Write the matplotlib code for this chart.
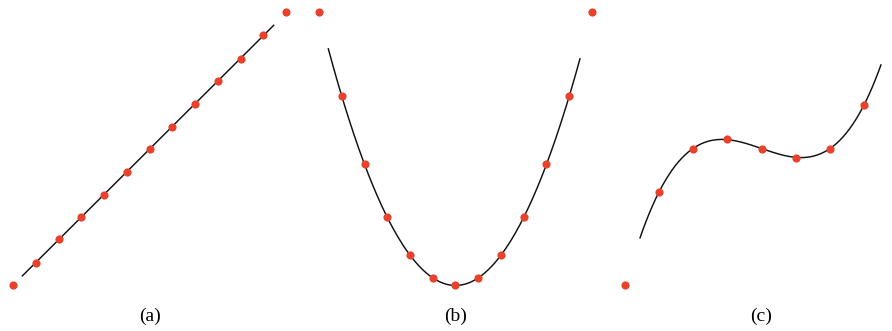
import matplotlib
matplotlib.use('Agg')
import matplotlib.pyplot as plt
import numpy as np

# sample points, one set per panel
a_x = [1, 2, 3, 4, 5, 6, 7, 8, 9, 10, 11]
a_y = [0.97, 2.02, 2.99, 3.96, 4.97, 5.98, 6.95, 7.96, 8.97, 9.93, 10.99]

b_x = [1, 2, 3, 4, 5, 6, 7, 8, 9, 10, 11]
b_y = [8.3, 5.3, 3.0, 1.3, 0.3, 0.0, 0.3, 1.3, 3.0, 5.3, 8.3]

c_x = [1.5, 3, 4.5, 6, 7.5, 9, 10.5]
c_y = [4.1, 6.0, 6.4, 6.0, 5.6, 6.0, 7.9]

# extra dots sitting on the frame corners
a_corner_x, a_corner_y = [0, 12], [0, 12]
b_corner_x, b_corner_y = [0, 12], [12, 12]
c_corner_x, c_corner_y = [0, 12], [0, 12]

# fitted curve: polynomial degree and drawn x range
degrees = [1, 2, 3]
curve_ranges = [(0.41, 11.46), (0.41, 11.47), (0.66, 11.25)]
labels = ['(a)', '(b)', '(c)']

dot_color = '#e8412c'

W, H = 892, 331
fig = plt.figure(figsize=(W / 100, H / 100), dpi=100)

panels = [
    (a_x, a_y, a_corner_x, a_corner_y),
    (b_x, b_y, b_corner_x, b_corner_y),
    (c_x, c_y, c_corner_x, c_corner_y),
]
lefts = [13, 319, 625]  # pixel position of each frame's left edge
size = 273

for i, (xs, ys, cx, cy) in enumerate(panels):
    ax = fig.add_axes([lefts[i] / W, (H - 285) / H, size / W, size / H])
    ax.set_xlim(0, 12)
    ax.set_ylim(0, 12)
    ax.axis('off')

    # fitted curve
    coef = np.polyfit(xs, ys, degrees[i])
    xx = np.linspace(*curve_ranges[i], 300)
    ax.plot(xx, np.polyval(coef, xx), color='#111111', lw=1.05, clip_on=False, zorder=2)

    ax.plot(xs, ys, 'o', color=dot_color, ms=5.9, mec='none', clip_on=False, zorder=3)
    ax.plot(cx, cy, 'o', color=dot_color, ms=5.9, mec='none', clip_on=False, zorder=3)

    fig.text((lefts[i] + size / 2) / W, (H - 316) / H, labels[i],
             ha='center', va='center', fontsize=14, family='Liberation Serif')

fig.savefig('out.png', dpi=100)
